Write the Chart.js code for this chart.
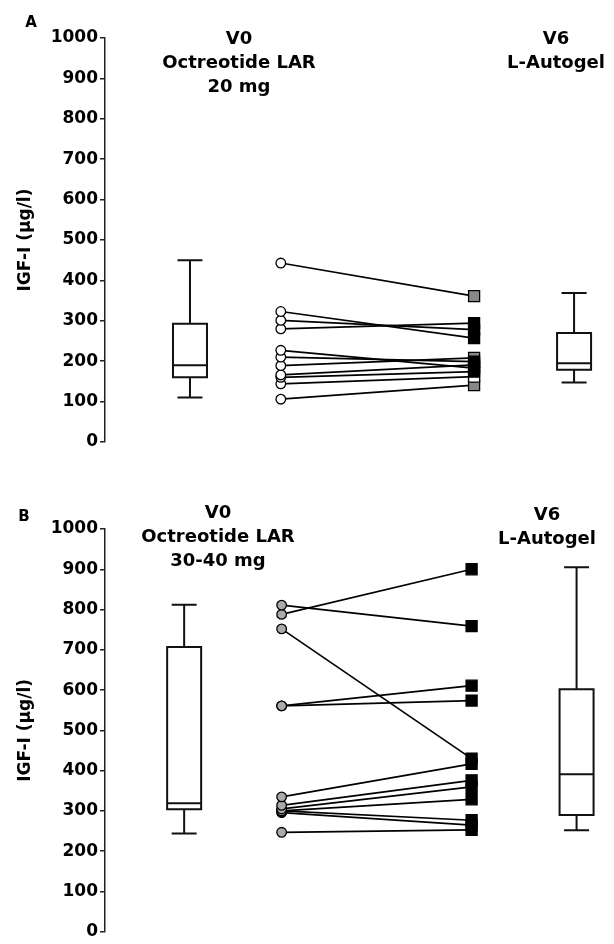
<!DOCTYPE html>
<html>
<head>
<meta charset="utf-8">
<script src="https://cdn.jsdelivr.net/npm/chart.js@4.4.1/dist/chart.umd.min.js"></script>
<style>
  body { margin: 0; background: #fff; }
  #wrap { position: relative; width: 614px; height: 944px; overflow: hidden; }
  canvas { position: absolute; left: 0; }
  .lbl { position: absolute; font-family: "DejaVu Sans", sans-serif; font-weight: bold; color: #000;
         text-align: center; white-space: nowrap; transform: translateX(-50%); }
  .head { font-size: 18px; line-height: 24px; }
  .panel { font-size: 15px; line-height: 16px; }
</style>
</head>
<body>
<div id="wrap">
  <canvas id="chartA" width="614" height="472" style="top:0"></canvas>
  <canvas id="chartB" width="614" height="472" style="top:472px"></canvas>

  <div class="lbl panel" style="left:31px; top:14px">A</div>
  <div class="lbl head" style="left:239px; top:26px">V0<br>Octreotide LAR<br>20 mg</div>
  <div class="lbl head" style="left:556px; top:26px">V6<br>L-Autogel</div>

  <div class="lbl panel" style="left:24px; top:508px">B</div>
  <div class="lbl head" style="left:218px; top:500px">V0<br>Octreotide LAR<br>30-40 mg</div>
  <div class="lbl head" style="left:547px; top:502px">V6<br>L-Autogel</div>
</div>

<script>
// y axis ticks (both panels)
const yTicks = [0, 100, 200, 300, 400, 500, 600, 700, 800, 900, 1000];

// panel A : octreotide LAR 20 mg -> lanreotide autogel
const aV0 = [443, 323, 301, 280, 227, 210, 189, 166, 160, 144, 106];
const aV6 = [361, 257, 278, 294, 183, 199, 208, 191, 174, 162, 141];
const aV6Fill = ['#888', '#000', '#000', '#000', '#000', '#000', '#888', '#000', '#000', '#fff', '#888'];
// box stats [min, q1, median, q3, max]
const aBoxV0 = [110, 160, 190, 293, 450];
const aBoxV6 = [147, 179, 195, 270, 369];

// panel B : octreotide LAR 30-40 mg -> lanreotide autogel
const bV0 = [811, 788, 752, 561, 561, 335, 314, 305, 300, 300, 296, 247];
const bV6 = [759, 900, 430, 611, 574, 417, 376, 360, 329, 277, 265, 253];
const bV0Fill = ['#aaa', '#aaa', '#aaa', '#aaa', '#aaa', '#aaa', '#aaa', '#aaa', '#aaa', '#000', '#000', '#aaa'];
const bBoxV0 = [244, 304, 319, 707, 812];
const bBoxV6 = [252, 290, 391, 602, 905];

// box plot drawer, uses the chart's scales
const boxPlugin = {
  id: 'boxes',
  afterDatasetsDraw(chart, args, opts) {
    const { ctx, scales: { x, y } } = chart;
    ctx.save();
    ctx.strokeStyle = '#111';
    ctx.lineWidth = 2;
    opts.boxes.forEach(b => {
      const cx = x.getPixelForValue(b.pos);
      const [mn, q1, md, q3, mx] = b.stats.map(v => y.getPixelForValue(v));
      const hw = 17, cw = 12.5;
      ctx.beginPath();
      ctx.rect(cx - hw, q3, hw * 2, q1 - q3);
      ctx.moveTo(cx - hw, md); ctx.lineTo(cx + hw, md);
      ctx.moveTo(cx, q3); ctx.lineTo(cx, mx);
      ctx.moveTo(cx - cw, mx); ctx.lineTo(cx + cw, mx);
      ctx.moveTo(cx, q1); ctx.lineTo(cx, mn);
      ctx.moveTo(cx - cw, mn); ctx.lineTo(cx + cw, mn);
      ctx.stroke();
    });
    ctx.restore();
  }
};

function makePanel(id, pos, v0, v6, v0Fill, v6Fill, boxV0, boxV6, padTop, padBottom) {
  const datasets = v0.map((val, i) => ({
    data: [{ x: pos[1], y: val }, { x: pos[2], y: v6[i] }],
    borderColor: '#000',
    borderWidth: 1.7,
    pointStyle: ['circle', 'rect'],
    pointRadius: [4.8, 7.8],
    pointBackgroundColor: [v0Fill[i], v6Fill[i]],
    pointBorderColor: '#000',
    pointBorderWidth: 1.3
  }));

  new Chart(document.getElementById(id), {
    type: 'line',
    data: { datasets },
    plugins: [boxPlugin],
    options: {
      responsive: false,
      animation: false,
      devicePixelRatio: 1,
      layout: { padding: { top: padTop, bottom: padBottom, left: 0, right: 0 } },
      plugins: {
        legend: { display: false },
        tooltip: { enabled: false },
        boxes: { boxes: [{ pos: pos[0], stats: boxV0 }, { pos: pos[3], stats: boxV6 }] }
      },
      scales: {
        x: { type: 'linear', display: false, min: 0, max: 6 },
        y: {
          min: 0, max: 1000,
          afterBuildTicks: s => { s.ticks = yTicks.map(v => ({ value: v })); },
          afterFit: s => { s.width = 105; },
          border: { display: true, color: '#222', width: 1.5 },
          grid: { drawOnChartArea: false, drawTicks: true, tickLength: 5, color: '#222', lineWidth: 1.5 },
          ticks: {
            padding: 2, color: '#000',
            font: { family: 'DejaVu Sans', weight: 'bold', size: 17 },
            callback: v => String(v)
          },
          title: {
            display: true, text: 'IGF-I (µg/l)', color: '#000',
            padding: { top: 15, bottom: 0 },
            font: { family: 'DejaVu Sans', weight: 'bold', size: 17 }
          }
        }
      }
    }
  });
}

makePanel('chartA', [1.02, 2.11, 4.43, 5.63], aV0, aV6,
  aV0.map(() => '#fff'), aV6Fill, aBoxV0, aBoxV6, 38, 30);
makePanel('chartB', [0.95, 2.12, 4.40, 5.66], bV0, bV6,
  bV0Fill, bV6.map(() => '#000'), bBoxV0, bBoxV6, 57, 10);
</script>
</body>
</html>
